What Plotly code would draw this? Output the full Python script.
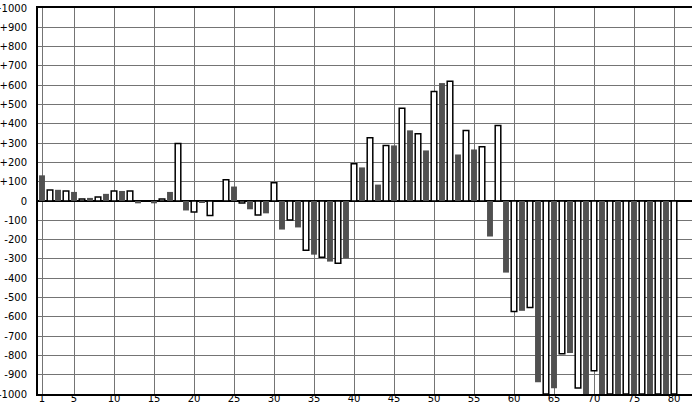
import plotly.graph_objects as go

positions = list(range(1, 81))
values = [
    133, 57, 58, 52, 47, 10, 16, 21, 37, 52,
    52, 52, -12, 0, -12, 10, 47, 298, -49, -57,
    -7, -75, 0, 110, 75, -10, -43, -73, -64, 94,
    -148, -99, -137, -255, -278, -292, -314, -323, -297, 193,
    174, 328, 85, 287, 288, 480, 366, 349, 262, 568,
    611, 620, 241, 365, 267, 281, -184, 391, -371, -573,
    -569, -552, -939, -1000, -970, -792, -788, -969, -1000, -880,
    -1000, -1000, -1000, -1000, -1000, -1000, -1000, -1000, -1000, -1000,
]
x_ticks = [1, 5, 10, 15, 20, 25, 30, 35, 40, 45, 50, 55, 60, 65, 70, 75, 80]
y_ticks = list(range(1000, -1001, -100))
y_labels = [("+%d" % v) if v > 0 else ("0" if v == 0 else "-%d" % (-v)) for v in y_ticks]

odd_x = [p for p in positions if p % 2 == 1]
odd_y = [v for p, v in zip(positions, values) if p % 2 == 1]
even_x = [p for p in positions if p % 2 == 0]
even_y = [v for p, v in zip(positions, values) if p % 2 == 0]

fig = go.Figure()
fig.add_trace(go.Bar(x=odd_x, y=odd_y, width=0.74,
                     marker=dict(color="#505050", line=dict(width=0))))
fig.add_trace(go.Bar(x=even_x, y=even_y, width=0.7,
                     marker=dict(color="white", line=dict(color="black", width=1.5))))

fig.update_layout(
    width=692, height=404,
    margin=dict(l=38, r=0, t=8, b=10),
    barmode="overlay",
    showlegend=False,
    plot_bgcolor="white", paper_bgcolor="white",
    font=dict(family="DejaVu Sans", size=10, color="black"),
)
fig.update_xaxes(
    range=[0.5, 82.25], tickmode="array", tickvals=x_ticks,
    ticktext=[str(t) for t in x_ticks],
    showgrid=True, gridcolor="#747474", gridwidth=1,
    showline=True, linecolor="black", linewidth=2, mirror=True,
    ticks="", zeroline=False, ticklabelstandoff=-6, automargin=False,
)
fig.update_yaxes(
    range=[-1000, 1000], tickmode="array", tickvals=y_ticks, ticktext=y_labels,
    showgrid=True, gridcolor="#747474", gridwidth=1,
    showline=True, linecolor="black", linewidth=2, mirror=True,
    zeroline=True, zerolinecolor="black", zerolinewidth=2,
    ticks="", ticklabelstandoff=7, automargin=False,
)
fig.write_html("out.html", config={"displayModeBar": False},
               post_script="document.body.style.margin='0';document.body.style.overflow='hidden';")
